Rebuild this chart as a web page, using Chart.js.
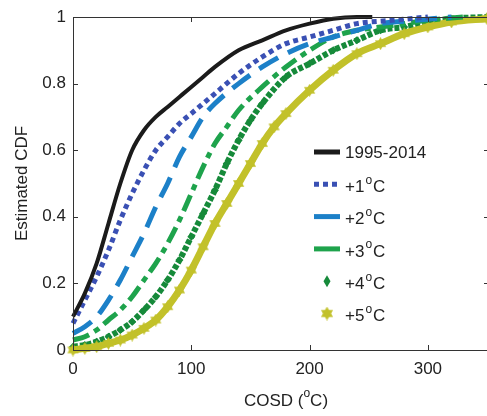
<!DOCTYPE html>
<html>
<head>
	<title>Estimated CDF of COSD</title>
	<script src="https://cdn.jsdelivr.net/npm/chart.js@4"></script>
<style>
	body { margin: 0; background: #fff; }
</style>
</head>
<body>
<div style="width: 487px; height: 416px;">
	<canvas id="cdf"></canvas>
</div>

<script>
// tick values
var xTicks = [0, 100, 200, 300];
var yTicks = [0, 0.2, 0.4, 0.6, 0.8, 1];

// series: [COSD, CDF]
var base = [[0,0.1],[10,0.17],[20,0.26],[30,0.38],[40,0.5],[50,0.6],[60,0.66],[70,0.7],[80,0.73],[90,0.76],[100,0.79],[110,0.82],[120,0.85],[140,0.9],[160,0.93],[180,0.96],[200,0.98],[220,0.995],[240,1],[253,1]];
var plus1 = [[0,0.08],[10,0.15],[20,0.22],[30,0.3],[40,0.39],[50,0.47],[60,0.54],[70,0.6],[80,0.64],[90,0.68],[100,0.71],[120,0.77],[140,0.83],[160,0.88],[180,0.92],[200,0.94],[220,0.96],[240,0.98],[270,0.99],[300,1]];
var plus2 = [[0,0.05],[10,0.07],[20,0.1],[30,0.15],[40,0.21],[50,0.28],[60,0.35],[70,0.43],[80,0.5],[90,0.58],[100,0.64],[110,0.7],[120,0.74],[140,0.8],[160,0.85],[180,0.89],[200,0.92],[220,0.94],[240,0.96],[260,0.98],[290,0.99],[320,1]];
var plus3 = [[0,0.03],[10,0.04],[20,0.06],[30,0.09],[40,0.12],[50,0.16],[60,0.21],[70,0.26],[80,0.32],[90,0.39],[100,0.47],[110,0.55],[120,0.62],[130,0.67],[140,0.72],[160,0.79],[180,0.85],[200,0.9],[220,0.94],[240,0.96],[260,0.97],[280,0.98],[300,0.99],[330,1]];
var plus4 = [[0,0.01],[10,0.015],[20,0.025],[30,0.04],[40,0.06],[50,0.085],[60,0.12],[70,0.16],[80,0.21],[90,0.27],[100,0.34],[110,0.41],[120,0.48],[130,0.56],[140,0.63],[150,0.69],[160,0.74],[180,0.82],[200,0.86],[220,0.9],[240,0.93],[260,0.96],[280,0.97],[300,0.985],[320,0.995],[350,1]];
var plus5 = [[0,0],[10,0.005],[20,0.01],[30,0.02],[40,0.03],[50,0.045],[60,0.065],[70,0.09],[80,0.13],[90,0.18],[100,0.24],[110,0.31],[120,0.38],[130,0.44],[140,0.5],[150,0.56],[160,0.62],[170,0.67],[180,0.71],[200,0.78],[220,0.84],[240,0.89],[260,0.92],[280,0.95],[300,0.97],[320,0.985],[350,0.995]];

var labels = ['1995-2014', '+1', '+2', '+3', '+4', '+5'];
var colors = ['#1b1b1b', '#3a50b4', '#1c80c8', '#1ea34c', '#168a3a', '#c2c12a'];

var font = '"Liberation Sans", Arial, sans-serif';

function pts(arr) {
	return arr.map(function (p) { return { x: p[0], y: p[1] }; });
}

// six pointed star marker
function makeStar(size, color) {
	var c = document.createElement('canvas');
	c.width = size;
	c.height = size;
	var g = c.getContext('2d');
	var r = size / 2;
	g.fillStyle = color;
	for (var k = 0; k < 2; k++) {
		g.beginPath();
		for (var i = 0; i < 3; i++) {
			var a = -Math.PI / 2 + k * Math.PI / 3 + i * 2 * Math.PI / 3;
			var px = r + r * Math.cos(a), py = r + r * Math.sin(a);
			if (i == 0) g.moveTo(px, py); else g.lineTo(px, py);
		}
		g.closePath();
		g.fill();
	}
	return c;
}
var starImg = makeStar(13, colors[5]);

// box with inward ticks, titles and legend
var decor = {
	id: 'decor',
	afterDraw: function (chart) {
		var ctx = chart.ctx;
		var a = chart.chartArea;
		var xs = chart.scales.x, ys = chart.scales.y;
		ctx.save();
		ctx.strokeStyle = '#333';
		ctx.lineWidth = 1;
		ctx.beginPath();
		ctx.moveTo(a.left + 0.5, a.top + 0.5);
		ctx.lineTo(a.left + 0.5, a.bottom + 0.5);
		ctx.lineTo(a.right + 2, a.bottom + 0.5);
		ctx.moveTo(a.left + 0.5, a.top + 0.5);
		ctx.lineTo(a.right + 2, a.top + 0.5);
		xTicks.forEach(function (v) {
			var px = Math.round(xs.getPixelForValue(v)) + 0.5;
			ctx.moveTo(px, a.bottom); ctx.lineTo(px, a.bottom - 5);
			ctx.moveTo(px, a.top); ctx.lineTo(px, a.top + 5);
		});
		yTicks.forEach(function (v) {
			var py = Math.round(ys.getPixelForValue(v)) + 0.5;
			ctx.moveTo(a.left, py); ctx.lineTo(a.left + 5, py);
			ctx.moveTo(a.right + 2, py); ctx.lineTo(a.right - 3, py);
		});
		ctx.stroke();

		ctx.fillStyle = '#222';
		ctx.textBaseline = 'middle';

		// y title
		ctx.save();
		ctx.translate(22, (a.top + a.bottom) / 2);
		ctx.rotate(-Math.PI / 2);
		ctx.font = '17px ' + font;
		ctx.textAlign = 'center';
		ctx.fillText('Estimated CDF', 0, 0);
		ctx.restore();

		// x title with superscript
		ctx.textAlign = 'left';
		var big = '17px ' + font, small = '12px ' + font;
		ctx.font = big;
		var w1 = ctx.measureText('COSD (').width;
		var w3 = ctx.measureText('C)').width;
		ctx.font = small;
		var w2 = ctx.measureText('o').width;
		var tx = 286 - (w1 + w2 + w3) / 2, ty = 401;
		ctx.font = big;
		ctx.fillText('COSD (', tx, ty);
		ctx.font = small;
		ctx.fillText('o', tx + w1, ty - 7);
		ctx.font = big;
		ctx.fillText('C)', tx + w1 + w2, ty);

		// legend
		var lx0 = 314, lx1 = 340, tx0 = 345;
		for (var i = 0; i < labels.length; i++) {
			var cy = 152 + i * 32.3;
			ctx.strokeStyle = colors[i];
			ctx.fillStyle = colors[i];
			ctx.lineCap = 'butt';
			if (i == 0 || i == 2 || i == 3) {
				ctx.setLineDash([]);
				ctx.lineWidth = 5;
				ctx.beginPath(); ctx.moveTo(lx0, cy); ctx.lineTo(lx1, cy); ctx.stroke();
			} else if (i == 1) {
				ctx.setLineDash([5, 4]);
				ctx.lineWidth = 5;
				ctx.beginPath(); ctx.moveTo(lx0, cy); ctx.lineTo(lx1, cy); ctx.stroke();
				ctx.setLineDash([]);
			} else if (i == 4) {
				ctx.beginPath();
				ctx.moveTo(327, cy - 6); ctx.lineTo(330.5, cy); ctx.lineTo(327, cy + 6); ctx.lineTo(323.5, cy);
				ctx.closePath(); ctx.fill();
			} else {
				ctx.drawImage(starImg, 327 - 7, cy - 7, 14, 14);
			}
			ctx.fillStyle = '#222';
			if (i == 0) {
				ctx.font = big;
				ctx.fillText(labels[i], tx0, cy + 1);
			} else {
				ctx.font = big;
				var wa = ctx.measureText(labels[i]).width;
				ctx.fillText(labels[i], tx0, cy + 3);
				ctx.font = small;
				var wo = ctx.measureText('o').width;
				ctx.fillText('o', tx0 + wa + 1, cy - 4);
				ctx.font = big;
				ctx.fillText('C', tx0 + wa + wo + 2, cy + 3);
			}
		}
		ctx.restore();
	}
};

var chart = new Chart(document.getElementById('cdf'), {
	type: 'line',
	data: {
		datasets: [
			{ data: pts(base), borderColor: colors[0], borderWidth: 4, pointRadius: 0, order: 0 },
			{ data: pts(plus1), borderColor: colors[1], borderWidth: 5, borderDash: [5, 4], pointRadius: 0, order: 1 },
			{ data: pts(plus2), borderColor: colors[2], borderWidth: 5, borderDash: [22, 11], pointRadius: 0, order: 2 },
			{ data: pts(plus3), borderColor: colors[3], borderWidth: 5, borderDash: [17, 6, 6, 6], pointRadius: 0, order: 3 },
			{ data: pts(plus4), borderColor: colors[4], backgroundColor: colors[4], borderWidth: 6, borderDash: [5, 2],
				pointStyle: 'rectRot', pointRadius: 4, pointBorderWidth: 0, order: 5 },
			{ data: pts(plus5), borderColor: colors[5], backgroundColor: colors[5], borderWidth: 7,
				pointStyle: starImg, pointRadius: 6, order: 4 }
		]
	},
	options: {
		responsive: true,
		maintainAspectRatio: false,
		animation: false,
		layout: { autoPadding: false, padding: { top: 17, right: 0, left: 0, bottom: 0 } },
		elements: { line: { cubicInterpolationMode: 'monotone', fill: false } },
		datasets: { line: { clip: 8 } },
		plugins: { legend: { display: false }, tooltip: { enabled: false } },
		scales: {
			x: {
				type: 'linear', min: 0, max: 350,
				grid: { display: false, drawTicks: false },
				border: { display: false },
				afterBuildTicks: function (s) { s.ticks = xTicks.map(function (v) { return { value: v }; }); },
				afterFit: function (s) { s.height = 66; s.paddingLeft = 0; s.paddingRight = 0; },
				ticks: { padding: 9, color: '#222', font: { family: font, size: 17 }, maxRotation: 0,
					callback: function (v) { return String(v); } }
			},
			y: {
				type: 'linear', min: 0, max: 1,
				grid: { display: false, drawTicks: false },
				border: { display: false },
				afterBuildTicks: function (s) { s.ticks = yTicks.map(function (v) { return { value: v }; }); },
				afterFit: function (s) { s.width = 73; s.paddingTop = 0; s.paddingBottom = 0; },
				ticks: { padding: 7, color: '#222', font: { family: font, size: 17 },
					callback: function (v) { return String(v); } }
			}
		}
	},
	plugins: [decor]
});
</script>
</body>
</html>
